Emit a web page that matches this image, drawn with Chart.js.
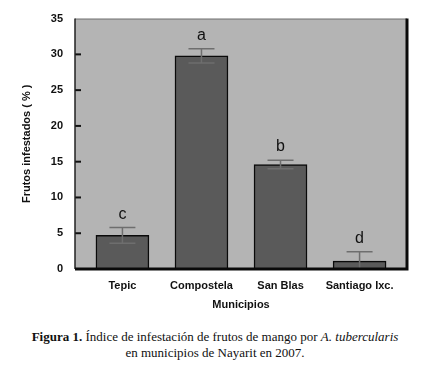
<!DOCTYPE html>
<html>
<head>
<meta charset="utf-8">
<script src="https://cdn.jsdelivr.net/npm/chart.js@4"></script>
<style>
  body { margin: 0; background: #fff; width: 430px; height: 368px; overflow: hidden; }
  #wrap { position: absolute; left: 0; top: 0; width: 430px; height: 318px; }
  #caption {
    position: absolute; left: 0; top: 329px; width: 430px;
    font-family: "Liberation Serif", "Times New Roman", serif;
    font-size: 13px; line-height: 16px; text-align: center; color: #111;
  }
</style>
</head>
<body>
<div id="wrap"><canvas id="chart"></canvas></div>
<div id="caption"><b>Figura 1.</b> Índice de infestación de frutos de mango por <i>A. tubercularis</i><br>en municipios de Nayarit en 2007.</div>
<script>
const municipios = ["Tepic", "Compostela", "San Blas", "Santiago Ixc."];
const frutosInfestados = [4.7, 29.8, 14.6, 1.1];
const errorEstandar = [1.1, 1.0, 0.6, 1.3];
const letras = ["c", "a", "b", "d"];
const yTicks = [0, 5, 10, 15, 20, 25, 30, 35];

const plotBackground = {
    id: "plotBackground",
    beforeDatasetsDraw(chart) {
        const { ctx, chartArea: a } = chart;
        ctx.save();
        ctx.fillStyle = "#b4b4b4";
        ctx.fillRect(a.left, a.top, a.right - a.left, a.bottom - a.top);
        ctx.restore();
    },
    afterDatasetsDraw(chart) {
        const { ctx, chartArea: a, scales } = chart;
        ctx.save();
        // error bars
        ctx.strokeStyle = "#6e6e6e";
        ctx.lineWidth = 1.5;
        frutosInfestados.forEach((v, i) => {
            const x = scales.x.getPixelForValue(i);
            const top = scales.y.getPixelForValue(v + errorEstandar[i]);
            const bot = scales.y.getPixelForValue(Math.max(0, v - errorEstandar[i]));
            ctx.beginPath();
            ctx.moveTo(x, top); ctx.lineTo(x, bot);
            ctx.moveTo(x - 13, top); ctx.lineTo(x + 13, top);
            ctx.moveTo(x - 13, bot); ctx.lineTo(x + 13, bot);
            ctx.stroke();
            ctx.fillStyle = "#111";
            ctx.font = "16px 'Liberation Sans', Arial, sans-serif";
            ctx.textAlign = "center";
            ctx.textBaseline = "alphabetic";
            ctx.fillText(letras[i], x, top - 9);
        });
        // inward ticks on y axis
        ctx.strokeStyle = "#111";
        ctx.lineWidth = 2;
        yTicks.slice(1, -1).forEach(t => {
            const y = scales.y.getPixelForValue(t);
            ctx.beginPath();
            ctx.moveTo(a.left, y); ctx.lineTo(a.left + 6, y);
            ctx.stroke();
        });
        // frame
        ctx.strokeStyle = "#777";
        ctx.lineWidth = 1;
        ctx.beginPath();
        ctx.moveTo(a.left, a.top + 0.5); ctx.lineTo(a.right, a.top + 0.5);
        ctx.stroke();
        ctx.strokeStyle = "#222";
        ctx.lineWidth = 1.5;
        ctx.beginPath();
        ctx.moveTo(a.left, a.top); ctx.lineTo(a.left, a.bottom);
        ctx.stroke();
        ctx.strokeStyle = "#0a0a0a";
        ctx.lineWidth = 3;
        ctx.beginPath();
        ctx.moveTo(a.right, a.top); ctx.lineTo(a.right, a.bottom);
        ctx.moveTo(a.left, a.bottom); ctx.lineTo(a.right + 1.5, a.bottom);
        ctx.stroke();
        ctx.restore();
    }
};

const tickFont = { family: "'Liberation Sans', Arial, sans-serif", size: 11, weight: "bold" };

new Chart(document.getElementById("chart"), {
    type: "bar",
    data: {
        datasets: [{
            data: frutosInfestados.map((v, i) => ({ x: i, y: v })),
            backgroundColor: "#5a5a5a",
            borderColor: "#0a0a0a",
            borderWidth: 1.5,
            barThickness: 53,
        }]
    },
    options: {
        responsive: true,
        maintainAspectRatio: false,
        animation: false,
        layout: { padding: { top: 8, right: 23, left: 0, bottom: 0 } },
        plugins: { legend: { display: false }, tooltip: { enabled: false } },
        scales: {
            x: {
                type: "linear",
                offset: false,
                min: -0.6,
                max: 3.6,
                afterBuildTicks: (s) => { s.ticks = municipios.map((m, i) => ({ value: i })); },
                ticks: {
                    callback: (v) => municipios[v] ?? "",
                    font: tickFont,
                    color: "#111",
                    padding: 10,
                    autoSkip: false,
                    maxRotation: 0,
                },
                grid: { display: false, drawTicks: false },
                border: { display: false },
                title: {
                    display: true,
                    text: "Municipios",
                    font: tickFont,
                    color: "#111",
                    padding: { top: 0, bottom: 6 },
                },
                afterFit: (s) => { s.height = 49; },
            },
            y: {
                min: 0,
                max: 35,
                afterBuildTicks: (s) => { s.ticks = yTicks.map(v => ({ value: v })); },
                ticks: { font: tickFont, color: "#111", padding: 12 },
                grid: { display: false, drawTicks: false },
                border: { display: false },
                title: {
                    display: true,
                    text: "Frutos infestados ( % )",
                    font: tickFont,
                    color: "#111",
                    padding: { top: 20, bottom: 0 },
                },
                afterFit: (s) => { s.width = 75; },
            }
        }
    },
    plugins: [plotBackground]
});
</script>
</body>
</html>
